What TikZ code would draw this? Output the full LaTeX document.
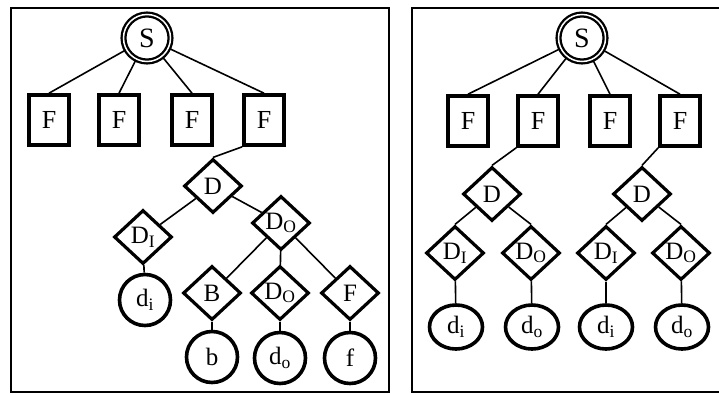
\documentclass[tikz,border=0pt]{standalone}
\usepackage{fontspec}
\setmainfont{Liberation Serif}
\usetikzlibrary{shapes.geometric, positioning}
\tikzset{
  root/.style={circle, draw, double, line width=2.3pt, double distance=1.5pt,
               minimum size=47pt, inner sep=0pt,
               font=\fontsize{28}{30}\selectfont},
  fbox/.style={rectangle, draw, line width=3.6pt, minimum width=40pt,
               minimum height=50pt, inner sep=0pt,
               font=\fontsize{26}{28}\selectfont},
  dmd/.style={diamond, draw, line width=3.2pt, minimum width=58pt,
              minimum height=54pt, inner sep=0pt,
              font=\fontsize{25}{27}\selectfont},
  leaf/.style={circle, draw, line width=3.6pt, minimum size=51pt,
               inner sep=0pt, font=\fontsize{25}{27}\selectfont},
  oleaf/.style={ellipse, draw, line width=3.6pt, minimum width=53pt,
                minimum height=44pt, inner sep=0pt,
                font=\fontsize{25}{27}\selectfont},
  link/.style={line width=1.6pt},
  panel/.style={line width=1.6pt},
}

\begin{document}
\begin{tikzpicture}[x=1pt, y=-1pt]
  \useasboundingbox (0,0) rectangle (719,394);

  % Left panel
  \draw[panel] (11,8) rectangle (389,392);

  \node[root] (s1) at (147,38) {S};

  \node[fbox] (f11) at (49,120)  {F};
  \node[fbox] (f12) at (119,120) {F};
  \node[fbox] (f13) at (192,120) {F};
  \node[fbox] (f14) at (264,120) {F};

  \node[dmd] (d1)   at (213,186) {D};
  \node[dmd] (di1)  at (143,237) {D\textsubscript{I}};
  \node[dmd] (do1)  at (281,223) {D\textsubscript{O}};
  \node[dmd] (bd)   at (212,293) {B};
  \node[dmd] (do2)  at (280,293) {D\textsubscript{O}};
  \node[dmd] (fd)   at (350,293) {F};

  \node[leaf] (li1) at (145,300) {d\textsubscript{i}};
  \node[leaf] (lb)  at (212,357) {b};
  \node[leaf] (lo1) at (280,358) {d\textsubscript{o}};
  \node[leaf] (lf)  at (350,358) {f};

  \draw[link] (s1) -- (f11.north);
  \draw[link] (s1) -- (f12.north);
  \draw[link] (s1) -- (f13.north);
  \draw[link] (s1) -- (f14.north);
  \draw[link] (f14.south west) -- (d1.north);
  \draw[link] (d1)  -- (di1);
  \draw[link] (d1)  -- (do1);
  \draw[link] (do1) -- (bd);
  \draw[link] (do1) -- (do2);
  \draw[link] (do1) -- (fd);
  \draw[link] (di1) -- (li1);
  \draw[link] (bd)  -- (lb);
  \draw[link] (do2) -- (lo1);
  \draw[link] (fd)  -- (lf);

  % Right panel
  \draw[panel] (719,8) -| (412,392) -- (719,392);

  \node[root] (s2) at (582,38) {S};

  \node[fbox] (f21) at (468,121) {F};
  \node[fbox] (f22) at (538,121) {F};
  \node[fbox] (f23) at (610,121) {F};
  \node[fbox] (f24) at (680,121) {F};

  \node[dmd] (dl)  at (492,194) {D};
  \node[dmd] (dr)  at (642,194) {D};
  \node[dmd] (dil) at (455,253) {D\textsubscript{I}};
  \node[dmd] (dol) at (531,253) {D\textsubscript{O}};
  \node[dmd] (dir) at (606,253) {D\textsubscript{I}};
  \node[dmd] (dor) at (681,253) {D\textsubscript{O}};

  \node[oleaf] (lil) at (456,327) {d\textsubscript{i}};
  \node[oleaf] (lol) at (532,327) {d\textsubscript{o}};
  \node[oleaf] (lir) at (606,327) {d\textsubscript{i}};
  \node[oleaf] (lor) at (682,327) {d\textsubscript{o}};

  \draw[link] (s2) -- (f21.north);
  \draw[link] (s2) -- (f22.north);
  \draw[link] (s2) -- (f23.north);
  \draw[link] (s2) -- (f24.north);
  \draw[link] (f22.south west) -- (dl.north);
  \draw[link] (f24.south west) -- (dr.north);
  \draw[link] (dl) -- (dil.north);
  \draw[link] (dl) -- (dol.north);
  \draw[link] (dr) -- (dir.north);
  \draw[link] (dr) -- (dor.north);
  \draw[link] (dil) -- (lil);
  \draw[link] (dol) -- (lol);
  \draw[link] (dir) -- (lir);
  \draw[link] (dor) -- (lor);
\end{tikzpicture}
\end{document}
